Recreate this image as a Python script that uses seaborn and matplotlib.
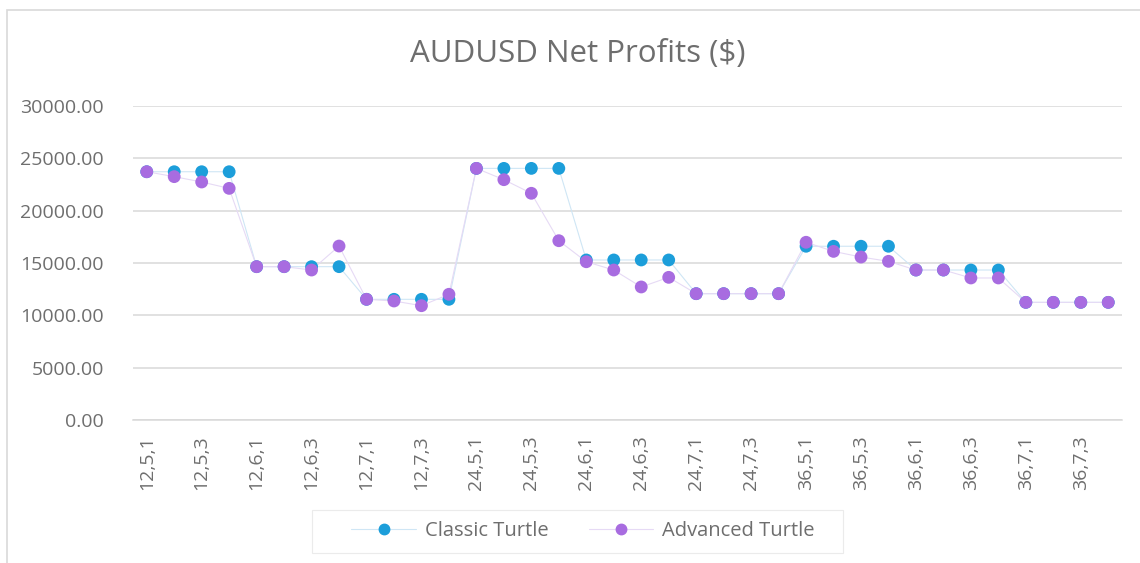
import matplotlib
matplotlib.use("Agg")
import matplotlib.pyplot as plt
from matplotlib.lines import Line2D
from matplotlib.patches import Rectangle
import seaborn as sns
import pandas as pd

# Parameter sets: entry period, exit period, stop multiple
categories = [f"{a},{b},{c}" for a in (12, 24, 36) for b in (5, 6, 7) for c in (1, 2, 3, 4)]

classic_turtle = [
    23720, 23720, 23720, 23720,
    14650, 14650, 14650, 14650,
    11530, 11530, 11530, 11530,
    24040, 24040, 24040, 24040,
    15290, 15290, 15290, 15290,
    12070, 12070, 12070, 12070,
    16600, 16600, 16600, 16600,
    14330, 14330, 14330, 14330,
    11240, 11240, 11240, 11240,
]

advanced_turtle = [
    23720, 23250, 22740, 22130,
    14650, 14650, 14330, 16620,
    11530, 11370, 10920, 12010,
    24040, 22960, 21660, 17130,
    15120, 14330, 12710, 13630,
    12070, 12070, 12070, 12070,
    16980, 16110, 15570, 15160,
    14330, 14330, 13570, 13570,
    11240, 11240, 11240, 11240,
]

series_names = ["Classic Turtle", "Advanced Turtle"]
marker_colors = ["#1C9EDA", "#A86CE0"]
line_colors = ["#CFE6F5", "#E6DAF5"]
y_ticks = [0, 5000, 10000, 15000, 20000, 25000, 30000]

sns.set_theme(style="white")
plt.rcParams["font.family"] = ["Open Sans", "DejaVu Sans"]

W, H = 1140, 563
fig = plt.figure(figsize=(W / 100, H / 100), dpi=100)
fig.patch.set_facecolor("white")


def px_rect(x0, y0, x1, y1, **kw):
    """Rectangle given in pixel coordinates measured from the top-left corner."""
    return Rectangle((x0 / W, 1 - y1 / H), (x1 - x0) / W, (y1 - y0) / H,
                     transform=fig.transFigure, fill=False, **kw)


# outer chart-area border
fig.patches.append(px_rect(7, 10, 1300, 700, edgecolor="#D9D9D9", linewidth=1.2, zorder=0))

left, right, bottom, top = 133, 1122, 420, 106
ax = fig.add_axes([left / W, (H - bottom) / H, (right - left) / W, (bottom - top) / H])

df = pd.DataFrame({
    "setting": categories * 2,
    "profit": classic_turtle + advanced_turtle,
    "series": [series_names[0]] * len(categories) + [series_names[1]] * len(categories),
})

for name, mc, lc in zip(series_names, marker_colors, line_colors):
    sub = df[df["series"] == name]
    sns.lineplot(data=sub, x="setting", y="profit", ax=ax, sort=False,
                 color=lc, linewidth=0.8, zorder=2)
for name, mc in zip(series_names, marker_colors):
    sub = df[df["series"] == name]
    sns.scatterplot(data=sub, x="setting", y="profit", ax=ax, color=mc,
                    s=85, edgecolor="none", zorder=3)

ax.set_xlim(-0.5, len(categories) - 0.5)
ax.set_ylim(0, 30000)
ax.set_yticks(y_ticks)
ax.set_yticklabels([f"{v:.2f}" for v in y_ticks])
ax.set_xticks(range(0, len(categories), 2))
ax.set_xticklabels(categories[::2], rotation=90)
ax.set_xlabel("")
ax.set_ylabel("")

ax.grid(axis="y", color="#D9D9D9", linewidth=1.1)
ax.set_axisbelow(True)
for s in ["top", "right", "left"]:
    ax.spines[s].set_visible(False)
ax.spines["bottom"].set_color("#D9D9D9")
ax.spines["bottom"].set_linewidth(1.1)
ax.tick_params(axis="both", length=0, labelsize=14, colors="#6E6E6E")
ax.tick_params(axis="y", pad=21)
ax.tick_params(axis="x", pad=11)

fig.text(578 / W, 1 - 54 / H, "AUDUSD Net Profits ($)", ha="center", va="center",
         fontsize=22.5, color="#6E6E6E")

# legend box
fig.patches.append(px_rect(312, 510, 843, 553, edgecolor="#EBEBEB", linewidth=0.8, zorder=1))

handles = [Line2D([0], [0], color=lc, linewidth=0.8, marker="o", markersize=7.5,
                  markerfacecolor=mc, markeredgecolor=mc)
           for mc, lc in zip(marker_colors, line_colors)]
leg = fig.legend(handles, series_names, loc="center", bbox_to_anchor=(583 / W, 1 - 531 / H),
                 ncol=2, frameon=False, fontsize=14.5, handlelength=3.2, columnspacing=2.0,
                 borderpad=0.0, handletextpad=0.45, labelcolor="#6E6E6E")

fig.savefig("out.png", dpi=100, facecolor="white")
